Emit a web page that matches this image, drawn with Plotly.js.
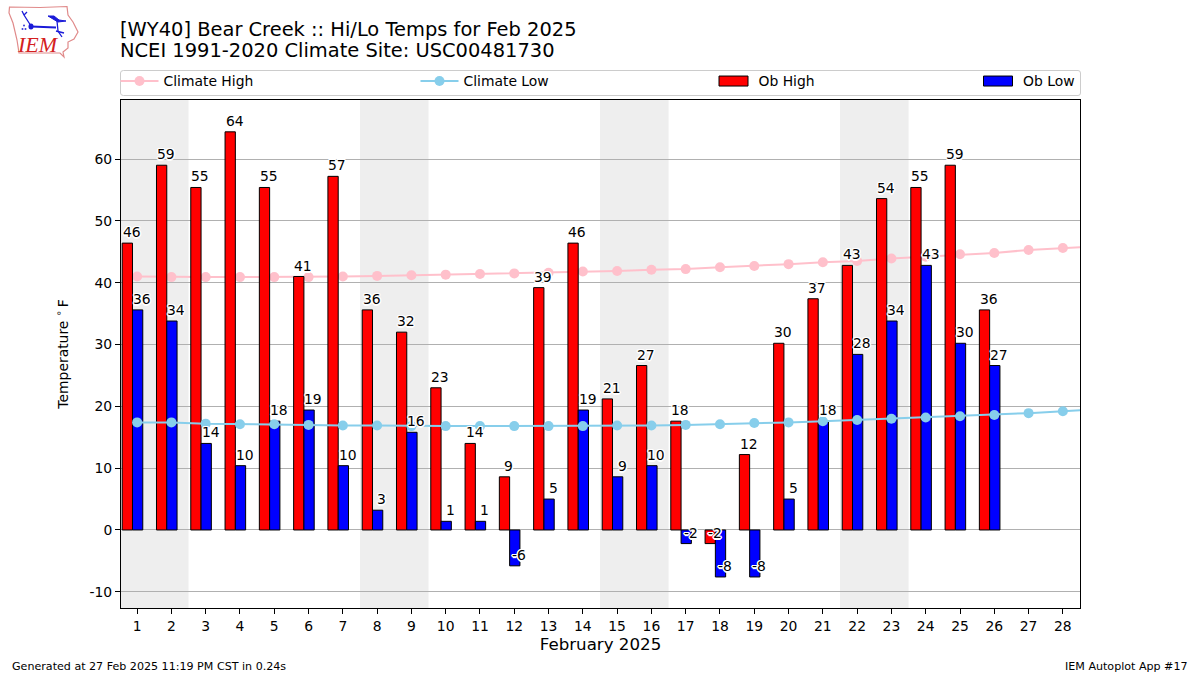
<!DOCTYPE html>
<html><head><meta charset="utf-8">
<script src="https://cdn.plot.ly/plotly-3.0.1.min.js"></script>
<style>html,body{margin:0;padding:0;background:#fff}</style></head>
<body><div id="chart" style="width:1200px;height:675px"></div>
<script>
const days=[1,2,3,4,5,6,7,8,9,10,11,12,13,14,15,16,17,18,19,20,21,22,23,24,25,26];
const climateDays=[1,2,3,4,5,6,7,8,9,10,11,12,13,14,15,16,17,18,19,20,21,22,23,24,25,26,27,28,29];
const obHigh=[46.4,59,55.4,64.4,55.4,41,57.2,35.6,32,23,14,8.6,39.2,46.4,21.2,26.6,17.6,-2.2,12.2,30.2,37.4,42.8,53.6,55.4,59,35.6];
const obLow=[35.6,33.8,14,10.4,17.6,19.4,10.4,3.2,15.8,1.4,1.4,-5.8,5,19.4,8.6,10.4,-2.2,-7.6,-7.6,5,17.6,28.4,33.8,42.8,30.2,26.6];
const climateHigh=[41,40.9,40.9,40.9,40.9,40.9,41,41.1,41.2,41.3,41.4,41.5,41.6,41.8,41.9,42.1,42.2,42.5,42.7,43,43.3,43.5,43.9,44.2,44.6,44.8,45.3,45.6,45.9];
const climateLow=[17.4,17.4,17.2,17.1,17.1,17,16.9,16.9,16.8,16.8,16.8,16.8,16.8,16.8,16.9,16.9,17,17.1,17.3,17.4,17.6,17.8,18,18.2,18.4,18.6,18.9,19.2,19.5];
const weekends=[[0.5,2.5],[7.5,9.5],[14.5,16.5],[21.5,23.5]];
const xTicks=[1,2,3,4,5,6,7,8,9,10,11,12,13,14,15,16,17,18,19,20,21,22,23,24,25,26,27,28];
const yTicks=[-10,0,10,20,30,40,50,60];
const titleLines=['[WY40] Bear Creek :: Hi/Lo Temps for Feb 2025','NCEI 1991-2020 Climate Site: USC00481730'];

const F='"DejaVu Sans", sans-serif';
const L=121,R=1080,T=100,B=608;
const X0=0.53,X1=28.5,Y0=-12.62,Y1=69.55;
const px=x=>(x-L)/(R-L), py=y=>(B-y)/(B-T);
const pathOf=(pts,close)=>'M'+pts.map(p=>px(p[0])+','+py(p[1])).join('L')+(close?'Z':'');
const halo='1.5px 0 0 #fff,-1.5px 0 0 #fff,0 1.5px 0 #fff,0 -1.5px 0 #fff,1px 1px 0 #fff,-1px -1px 0 #fff,1px -1px 0 #fff,-1px 1px 0 #fff';

function lbl(x,v){return {x:x,y:v,xref:'x',yref:'y',text:String(Math.round(v)),showarrow:false,xanchor:'center',yanchor:'bottom',
  xshift:9.5,yshift:2,borderpad:0,font:{family:F,size:13.9,color:'#000',shadow:halo}};}

const traces=[
 {type:'scatter',mode:'lines+markers',name:'Climate High',x:climateDays,y:climateHigh,xaxis:'x',yaxis:'y',legend:'legend',
  line:{color:'#FFC0CB',width:2},marker:{color:'#FFC0CB',size:10}},
 {type:'bar',name:'Ob High',x:days,y:obHigh,width:0.3,offset:-0.435,xaxis:'x2',yaxis:'y2',legend:'legend3',
  marker:{color:'#ff0000',line:{color:'#000',width:1}}},
 {type:'bar',name:'Ob Low',x:days,y:obLow,width:0.3,offset:-0.135,xaxis:'x2',yaxis:'y2',legend:'legend4',
  marker:{color:'#0000ff',line:{color:'#000',width:1}}},
 {type:'scatter',mode:'lines+markers',name:'Climate Low',x:climateDays,y:climateLow,xaxis:'x2',yaxis:'y2',legend:'legend2',
  line:{color:'#87CEEB',width:2},marker:{color:'#87CEEB',size:10}}
];

const shapes=weekends.map(w=>({type:'rect',xref:'x',yref:'paper',x0:w[0],x1:w[1],y0:0,y1:1,fillcolor:'#eeeeee',line:{width:0},layer:'below'}));
// legend frame
shapes.push({type:'path',xref:'paper',yref:'paper',layer:'above',line:{color:'#cccccc',width:1},fillcolor:'rgba(255,255,255,0.8)',
  path:'M'+px(123.5)+','+py(70.5)+'L'+px(1078)+','+py(70.5)+'Q'+px(1080.5)+','+py(70.5)+' '+px(1080.5)+','+py(73)+'L'+px(1080.5)+','+py(93)+'Q'+px(1080.5)+','+py(95.5)+' '+px(1078)+','+py(95.5)+'L'+px(123.5)+','+py(95.5)+'Q'+px(120.5)+','+py(95.5)+' '+px(120.5)+','+py(93)+'L'+px(120.5)+','+py(73)+'Q'+px(120.5)+','+py(70.5)+' '+px(123.5)+','+py(70.5)+'Z'});
// logo
const logoRed={color:'#e08a8a',width:1.2}, logoBlue={color:'#1a1ad8',width:2};
shapes.push({type:'path',xref:'paper',yref:'paper',layer:'above',line:logoRed,fillcolor:'#ffffff',path:pathOf([[9.5,7],[40,7.5],[67,6.5],[68,15],[73,22],[78,32],[74,39],[68,42],[68,48],[63,52],[64,57],[60,53],[19,53],[17,40],[13,23],[9,13]],true)});
shapes.push({type:'path',xref:'paper',yref:'paper',layer:'above',line:logoBlue,path:pathOf([[31,26.5],[56,27.5]])});
shapes.push({type:'path',xref:'paper',yref:'paper',layer:'above',line:{color:'#1a1ad8',width:1.3},path:pathOf([[31,26],[24,15],[22,11]])});
shapes.push({type:'path',xref:'paper',yref:'paper',layer:'above',line:{color:'#1a1ad8',width:1.3},path:pathOf([[24,15],[27,12]])});
shapes.push({type:'path',xref:'paper',yref:'paper',layer:'above',line:{color:'#1a1ad8',width:1},fillcolor:'#1a1ad8',path:pathOf([[48,16],[54,16],[59,20],[66,21],[58,22]],true)});
shapes.push({type:'path',xref:'paper',yref:'paper',layer:'above',line:{color:'#1a1ad8',width:1.3},path:pathOf([[57,21],[58,31],[62,37]])});
shapes.push({type:'path',xref:'paper',yref:'paper',layer:'above',line:{color:'#1a1ad8',width:1.3},path:pathOf([[56,31],[64,33]])});
shapes.push({type:'circle',xref:'paper',yref:'paper',layer:'above',line:{width:0},fillcolor:'#1a1ad8',x0:px(28.5),x1:px(33.5),y0:py(29.5),y1:py(23.5)});
[[24,25.5],[22.5,29],[25.5,29]].forEach(c=>shapes.push({type:'circle',xref:'paper',yref:'paper',layer:'above',line:{width:0},fillcolor:'#3a3ad8',x0:px(c[0]-1),x1:px(c[0]+1),y0:py(c[1]+1),y1:py(c[1]-1)}));

const annotations=[];
days.forEach((d,i)=>{annotations.push(lbl(d-0.435,obHigh[i]));annotations.push(lbl(d-0.135,obLow[i]));});
annotations.push({xref:'paper',yref:'paper',x:px(118),y:py(51),xanchor:'left',yanchor:'middle',showarrow:false,text:titleLines[1],font:{family:F,size:19.44,color:'#000'}});
annotations.push({xref:'paper',yref:'paper',x:px(10),y:py(666),xanchor:'left',yanchor:'middle',showarrow:false,text:'Generated at 27 Feb 2025 11:19 PM CST in 0.24s',font:{family:F,size:11.1,color:'#000'}});
annotations.push({xref:'paper',yref:'paper',x:px(1190),y:py(666),xanchor:'right',yanchor:'middle',showarrow:false,text:'IEM Autoplot App #17',font:{family:F,size:11.1,color:'#000'}});
annotations.push({xref:'paper',yref:'paper',x:px(38),y:py(45),xanchor:'center',yanchor:'middle',showarrow:false,text:'<i>IEM</i>',font:{family:'"Liberation Serif", serif',size:22,color:'#d42020'}});

const leg=(x,w)=>({x:px(x),y:py(81.5),xanchor:'left',yanchor:'middle',bgcolor:'rgba(0,0,0,0)',borderwidth:0,font:{family:F,size:13.9,color:'#000'},itemwidth:w});
const axisCommon={showline:true,linecolor:'#000',linewidth:1,mirror:true,ticks:'outside',ticklen:5,tickcolor:'#000',tickwidth:1,
  tickfont:{family:F,size:13.9,color:'#000'}};
const layout={
 width:1200,height:675,autosize:false,paper_bgcolor:'#fff',plot_bgcolor:'#fff',
 margin:{l:L,r:1200-R,t:T,b:675-B,pad:0},
 font:{family:F,color:'#000'},showlegend:true,
 barmode:'overlay',hovermode:false,
 title:{text:titleLines[0],x:120/1200,xref:'container',xanchor:'left',yref:'container',y:1-29/675,yanchor:'middle',font:{family:F,size:19.44,color:'#000'}},
 xaxis:Object.assign({},axisCommon,{range:[X0,X1],tickvals:xTicks,ticktext:xTicks.map(String),showgrid:false,zeroline:false,
   title:{text:'February 2025',font:{family:F,size:16.67,color:'#000'},standoff:5}}),
 yaxis:Object.assign({},axisCommon,{range:[Y0,Y1],tickvals:yTicks,ticktext:yTicks.map(String),showgrid:true,gridcolor:'#b0b0b0',gridwidth:1,zeroline:false,
   title:{text:'Temperature <sup>∘</sup>\u2009F',font:{family:F,size:13.9,color:'#000'},standoff:17}}),
 xaxis2:{overlaying:'x',range:[X0,X1],visible:false,anchor:'y2'},
 yaxis2:{overlaying:'y',range:[Y0,Y1],visible:false,anchor:'x2'},
 legend:leg(115.5,38),legend2:leg(415.5,38),legend3:leg(708.5,40),legend4:leg(973,40),
 shapes:shapes,annotations:annotations
};
Plotly.newPlot('chart',traces,layout,{displayModeBar:false,staticPlot:true}).then(()=>{
 document.querySelectorAll('g.legendpoints path').forEach(p=>{
   const d=p.getAttribute('d')||'';
   if(p.classList.contains('js-line')) p.setAttribute('d','M9,0h30');
   else if(/V/.test(d)&&!p.classList.contains('scatterpts')){ p.setAttribute('d','M-14.5,5H14.5V-5H-14.5Z'); p.style.strokeWidth='1px'; }
 });
});
</script></body></html>
